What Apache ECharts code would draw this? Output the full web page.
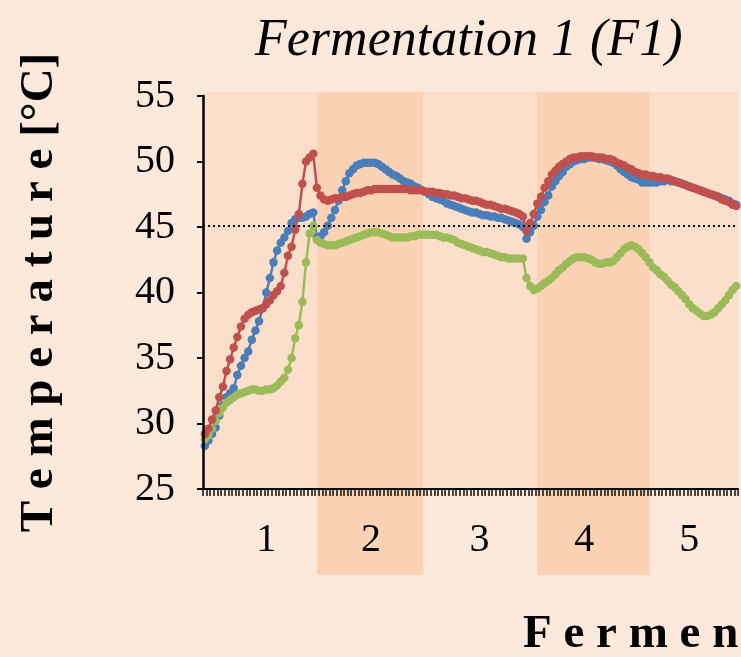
<!DOCTYPE html>
<html>
<head>
<meta charset="utf-8">
<script src="https://cdn.jsdelivr.net/npm/echarts@6/dist/echarts.min.js"></script>
<style>
html,body{margin:0;padding:0;background:#fde9dc;}
#chart{width:741px;height:657px;}
</style>
</head>
<body>
<div id="chart"></div>
<script>
// ---- data (temperature in °C, one value per sample) ----
const blueTemp = [
28.3,28.7,29.2,29.7,30.6,31.4,32.0,32.3,32.7,33.7,34.4,35.0,35.5,36.4,37.1,37.8,38.8,40.0,41.1,42.3,
43.2,43.8,44.2,44.7,45.3,45.6,45.7,45.7,45.8,46.0,46.1,44.2,44.3,44.6,45.1,45.7,46.3,47.0,47.8,48.5,
49.1,49.4,49.7,49.8,49.9,49.9,49.9,49.9,49.8,49.6,49.4,49.2,49.0,48.9,48.7,48.5,48.4,48.3,48.1,48.0,
47.8,47.7,47.5,47.3,47.2,47.1,47.0,46.8,46.7,46.6,46.5,46.4,46.3,46.2,46.1,46.1,46.0,45.9,45.9,45.8,
45.8,45.7,45.7,45.6,45.5,45.4,45.3,45.2,45.0,44.1,44.6,45.1,45.8,46.3,46.9,47.4,48.1,48.5,48.9,49.2,
49.6,49.8,50.0,50.1,50.2,50.2,50.3,50.3,50.3,50.2,50.2,50.1,50.0,49.9,49.7,49.4,49.2,49.0,48.8,48.7,
48.6,48.4,48.4,48.4,48.4,48.4,48.5,48.5,48.6,48.5,48.5,48.4,48.3,48.2,48.1,48.0,47.9,47.8,47.7,47.6,
47.5,47.4,47.3,47.2,47.1,47.0,46.8,46.7
];
const redTemp = [
29.2,29.6,30.3,31.0,32.0,32.8,34.0,34.9,35.8,36.6,37.4,38.0,38.3,38.5,38.6,38.7,38.8,39.1,39.4,39.8,
40.1,40.5,41.5,42.8,43.5,44.8,46.0,48.3,50.0,50.3,50.6,48.0,47.4,47.1,47.0,47.1,47.2,47.2,47.3,47.3,
47.4,47.5,47.6,47.6,47.7,47.8,47.8,47.9,47.9,47.9,47.9,47.9,47.9,47.9,47.9,47.9,47.9,47.8,47.8,47.8,
47.8,47.7,47.7,47.7,47.6,47.6,47.5,47.5,47.4,47.4,47.3,47.2,47.2,47.1,47.0,47.0,46.9,46.8,46.7,46.7,
46.6,46.5,46.4,46.4,46.3,46.2,46.1,46.0,45.8,44.7,45.3,46.0,46.8,47.3,48.0,48.5,49.0,49.3,49.6,49.8,
50.0,50.2,50.3,50.3,50.4,50.4,50.4,50.4,50.3,50.3,50.3,50.2,50.2,50.1,49.9,49.8,49.7,49.5,49.4,49.2,
49.1,49.0,49.0,48.9,48.9,48.8,48.8,48.7,48.7,48.6,48.5,48.4,48.3,48.2,48.1,48.0,47.9,47.8,47.7,47.6,
47.5,47.4,47.3,47.1,47.0,46.9,46.7,46.6
];
const greenTemp = [
28.8,29.1,29.6,30.2,30.8,31.2,31.6,31.8,32.0,32.2,32.3,32.4,32.5,32.6,32.6,32.5,32.5,32.6,32.6,32.7,
32.9,33.2,33.5,34.1,35.0,36.5,37.5,39.3,42.3,44.5,45.1,44.0,43.8,43.7,43.6,43.6,43.6,43.7,43.8,43.9,
44.0,44.1,44.2,44.3,44.4,44.5,44.6,44.6,44.6,44.5,44.4,44.3,44.2,44.2,44.2,44.2,44.2,44.3,44.3,44.4,
44.4,44.4,44.4,44.4,44.4,44.3,44.2,44.2,44.1,44.0,43.8,43.7,43.6,43.5,43.4,43.3,43.2,43.1,43.1,43.0,
42.9,42.8,42.7,42.7,42.6,42.6,42.6,42.6,42.6,41.1,40.5,40.2,40.3,40.5,40.7,40.9,41.1,41.4,41.7,41.9,
42.2,42.4,42.6,42.7,42.7,42.7,42.6,42.5,42.3,42.2,42.2,42.3,42.3,42.4,42.7,43.0,43.3,43.5,43.6,43.5,
43.3,43.0,42.7,42.3,41.9,41.7,41.4,41.2,40.9,40.6,40.4,40.1,39.8,39.5,39.1,38.8,38.6,38.4,38.2,38.2,
38.3,38.5,38.8,39.1,39.4,39.8,40.2,40.5
];
const thresholdTemp = 45.1;
// day boundaries, in sample units
const dayEdges = [0, 31.5, 61, 92.4, 123.6, 148];
// tick labels for the days and the sample they are centred on
const dayLabels = ['1', '2', '3', '4', '5'];
const dayLabelSample = [17, 46, 76, 105, 134];
const yTicks = [25, 30, 35, 40, 45, 50, 55];

// ---- chart ----
const samples = blueTemp.map((_, i) => String(i));
const serif = 'Liberation Serif';
const lightBand = '#fcdfca', darkBand = '#fbd3b4';
const plotTopPx = 96, plotBottomPx = 489, bandTopPx = 92, bandBottomPx = 575, H = 657;
const lightBottomFrac = (bandBottomPx - plotBottomPx) / (bandBottomPx - bandTopPx);

const bandAreas = [];
for (let d = 0; d < dayLabels.length; d++) {
  const dark = d % 2 === 1;
  bandAreas.push([
    {xAxis: dayEdges[d], yAxis: dark ? 0 : lightBottomFrac, itemStyle: {color: dark ? darkBand : lightBand}},
    {xAxis: dayEdges[d + 1], yAxis: 1}
  ]);
}

function lineSeries(name, data, color, z) {
  return {
    name, type: 'line', data, xAxisIndex: 0, yAxisIndex: 0,
    symbol: 'circle', symbolSize: 8.5, showSymbol: true, showAllSymbol: true,
    lineStyle: {color, width: 2.5}, itemStyle: {color},
    z, animation: false
  };
}

const chart = echarts.init(document.getElementById('chart'));
chart.setOption({
  backgroundColor: '#fde9dc',
  animation: false,
  title: [
    {text: 'Fermentation 1 (F1)', left: 250, top: 10,
     textStyle: {fontFamily: serif, fontStyle: 'italic', fontWeight: 'normal', fontSize: 52, color: '#000'}},
    {text: 'F e r m e n t a t i o n   t i m e', left: 518, top: 606,
     textStyle: {fontFamily: serif, fontWeight: 'bold', fontSize: 47, color: '#000'}}
  ],
  grid: [
    {left: 203, right: 3, top: plotTopPx, bottom: H - plotBottomPx},
    {left: 203, right: 3, top: bandTopPx, bottom: H - bandBottomPx}
  ],
  xAxis: [
    {type: 'category', gridIndex: 0, data: samples, boundaryGap: true, z: 5,
     axisLine: {lineStyle: {color: '#000', width: 2}},
     axisTick: {show: true, interval: 0, length: 7, lineStyle: {color: '#111', width: 1.5}},
     axisLabel: {
       interval: (i) => dayLabelSample.indexOf(i) >= 0,
       formatter: (v, i) => { const k = dayLabelSample.indexOf(Number(v)); return k >= 0 ? dayLabels[k] : ''; },
       fontFamily: serif, fontSize: 40, color: '#000', margin: 31
     },
     splitLine: {show: false}},
    {type: 'value', gridIndex: 1, min: dayEdges[0], max: dayEdges[dayEdges.length - 1], show: false}
  ],
  yAxis: [
    {type: 'value', gridIndex: 0, min: yTicks[0], max: yTicks[yTicks.length - 1], interval: 5, z: 5,
     name: 'T e m p e r a t u r e [°C]', nameLocation: 'middle', nameRotate: 90, nameGap: 140,
     nameTextStyle: {fontFamily: serif, fontWeight: 'bold', fontSize: 47, color: '#000'},
     axisLine: {show: true, lineStyle: {color: '#000', width: 2.5}},
     axisTick: {show: true, length: 6, lineStyle: {color: '#000', width: 2}},
     axisLabel: {fontFamily: serif, fontSize: 40, color: '#000', margin: 28},
     splitLine: {show: false}},
    {type: 'value', gridIndex: 1, min: 0, max: 1, show: false}
  ],
  series: [
    {type: 'line', xAxisIndex: 1, yAxisIndex: 1, data: [], z: 1, silent: true,
     markArea: {silent: true, data: bandAreas}},
    Object.assign(lineSeries('Blue', blueTemp, '#4a7ebb', 3), {
      markLine: {silent: true, symbol: 'none', label: {show: false},
        lineStyle: {color: '#111', type: [2, 3], width: 2},
        data: [{yAxis: thresholdTemp}]}
    }),
    lineSeries('Green', greenTemp, '#9bbb59', 3),
    lineSeries('Red', redTemp, '#c0504d', 4)
  ]
});
</script>
</body>
</html>
